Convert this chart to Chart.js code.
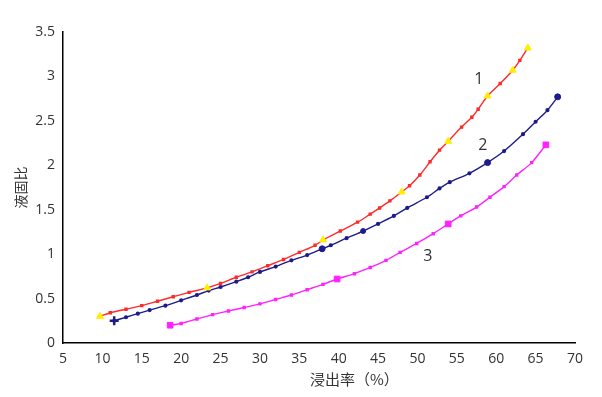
<!DOCTYPE html>
<html>
<head>
<meta charset="utf-8">
<script src="https://cdn.jsdelivr.net/npm/chart.js@4/dist/chart.umd.min.js"></script>
<style>
  html, body { margin: 0; padding: 0; background: #fff; }
</style>
</head>
<body>
<canvas id="chart" width="602" height="397"></canvas>
<script>
  // curve 1 (red)
  const red_x = [9.7, 11, 13, 15, 17, 19, 21, 23.3, 25, 27, 29, 31, 33, 35, 37, 38, 40.2, 42.4, 44, 45.2, 46.5, 48, 49, 50.3, 51.6, 52.8, 53.9, 55.6, 56.9, 57.7, 58.9, 60.5, 62.1, 63, 64];
  const red_y = [0.30, 0.34, 0.38, 0.42, 0.47, 0.52, 0.57, 0.62, 0.67, 0.74, 0.80, 0.87, 0.94, 1.02, 1.10, 1.16, 1.26, 1.36, 1.45, 1.52, 1.60, 1.70, 1.77, 1.89, 2.04, 2.17, 2.27, 2.43, 2.54, 2.63, 2.78, 2.92, 3.07, 3.18, 3.32];
  const redKey_x = [9.7, 23.3, 38, 48, 53.9, 58.9, 62.1, 64];
  const redKey_y = [0.30, 0.62, 1.16, 1.70, 2.27, 2.78, 3.07, 3.32];

  // curve 2 (navy)
  const blue_x = [11.5, 13, 14.5, 16, 18, 20, 22, 23.5, 25, 27, 28.5, 30, 32, 34, 36, 37.9, 39, 41, 43.1, 45, 47, 48.7, 51.2, 52.8, 54.1, 56.6, 58.9, 61, 63.4, 65, 66.5, 67.8];
  const blue_y = [0.25, 0.29, 0.33, 0.37, 0.42, 0.48, 0.54, 0.59, 0.63, 0.69, 0.74, 0.80, 0.86, 0.93, 0.99, 1.06, 1.10, 1.18, 1.26, 1.34, 1.43, 1.52, 1.64, 1.74, 1.81, 1.91, 2.03, 2.16, 2.35, 2.49, 2.62, 2.77];
  const blueKey_x = [11.5, 37.9, 43.1, 58.9, 67.8];
  const blueKey_y = [0.25, 1.06, 1.26, 2.03, 2.77];

  // curve 3 (magenta)
  const pink_x = [18.6, 20, 22, 24, 26, 28, 30, 32, 34, 36, 38, 39.8, 42, 44, 46, 47.8, 49.9, 52, 53.9, 55.5, 57.5, 59.2, 61, 62.6, 64.5, 66.3];
  const pink_y = [0.20, 0.22, 0.27, 0.32, 0.36, 0.40, 0.44, 0.49, 0.54, 0.60, 0.66, 0.72, 0.78, 0.85, 0.93, 1.02, 1.12, 1.23, 1.34, 1.43, 1.53, 1.64, 1.76, 1.89, 2.03, 2.23];
  const pinkKey_x = [18.6, 39.8, 53.9, 66.3];
  const pinkKey_y = [0.20, 0.72, 1.34, 2.23];

  // curve numbers
  const curveLabels = ["1", "2", "3"];
  const curveLabel_x = [57.8, 58.3, 51.3];
  const curveLabel_y = [2.97, 2.22, 0.97];

  const xTitle = "浸出率（%）";

  const pts = (xs, ys) => xs.map((x, i) => ({ x: x, y: ys[i] }));

  const tickFont = { family: "'Open Sans', sans-serif", size: 14 };

  // numbers next to the curves + x axis title (sits a bit right of centre in the original)
  const labelPlugin = {
    id: "curveLabels",
    afterDatasetsDraw(chart) {
      const ctx = chart.ctx;
      const sx = chart.scales.x, sy = chart.scales.y;
      ctx.save();
      ctx.font = "16px 'Open Sans', sans-serif";
      ctx.fillStyle = "#333";
      ctx.textAlign = "center";
      ctx.textBaseline = "middle";
      curveLabels.forEach((t, i) => {
        ctx.fillText(t, sx.getPixelForValue(curveLabel_x[i]), sy.getPixelForValue(curveLabel_y[i]));
      });
      ctx.font = "15px 'Noto Sans CJK SC', sans-serif";
      ctx.fillText(xTitle, sx.getPixelForValue(42), sx.bottom - 10);
      ctx.restore();
    }
  };

  const lineStyle = {
    showLine: true,
    borderWidth: 1.4,
    pointRadius: 1.4,
    tension: 0.3,
    order: 1,
  };

  const data = {
    datasets: [
      {
        data: pts(redKey_x, redKey_y),
        showLine: false,
        pointStyle: "triangle",
        pointRadius: 4,
        backgroundColor: "#ffee00",
        borderColor: "#ffee00",
        order: 0,
      },
      {
        data: pts(blueKey_x, blueKey_y),
        showLine: false,
        pointStyle: ["cross", "circle", "circle", "circle", "circle"],
        pointRadius: [4.5, 3, 2.5, 3, 3],
        borderWidth: [2.5, 1, 1, 1, 1],
        backgroundColor: "#1c1c8c",
        borderColor: "#1c1c8c",
        order: 0,
      },
      {
        data: pts(pinkKey_x, pinkKey_y),
        showLine: false,
        pointStyle: "rect",
        pointRadius: 4,
        backgroundColor: "#ff22ff",
        borderColor: "#ff22ff",
        order: 0,
      },
      Object.assign({
        data: pts(red_x, red_y),
        borderColor: "#ff2a2a",
        backgroundColor: "#ff2a2a",
        pointStyle: "rect",
      }, lineStyle),
      Object.assign({
        data: pts(blue_x, blue_y),
        borderColor: "#1c1c8c",
        backgroundColor: "#1c1c8c",
      }, lineStyle),
      Object.assign({
        data: pts(pink_x, pink_y),
        borderColor: "#ff22ff",
        backgroundColor: "#ff22ff",
        pointStyle: "rect",
      }, lineStyle),
    ],
  };

  const config = {
    type: "scatter",
    data: data,
    options: {
      responsive: false,
      animation: false,
      layout: { padding: { left: 10, right: 27, top: 32, bottom: 8 } },
      plugins: {
        legend: { display: false },
        tooltip: { enabled: false },
      },
      scales: {
        x: {
          type: "linear",
          min: 5,
          max: 70,
          afterFit: (s) => { s.height = 46; },
          grid: { display: false, drawTicks: false },
          border: { display: true, color: "#000", width: 1.5 },
          ticks: { stepSize: 5, padding: 8, color: "#333", font: tickFont },
        },
        y: {
          type: "linear",
          min: 0,
          max: 3.5,
          afterFit: (s) => { s.width = 53; },
          grid: { display: false, drawTicks: false },
          border: { display: true, color: "#000", width: 1.5 },
          ticks: {
            stepSize: 0.5,
            padding: 8,
            color: "#333",
            font: tickFont,
            callback: (v) => String(v),
          },
          title: {
            display: true,
            text: "液固比",
            color: "#333",
            font: { family: "'Noto Sans CJK SC', sans-serif", size: 14 },
            padding: { top: 2, bottom: 0 },
          },
        },
      },
    },
    plugins: [labelPlugin],
  };

  var chart = new Chart(document.getElementById("chart"), config);
</script>
</body>
</html>
